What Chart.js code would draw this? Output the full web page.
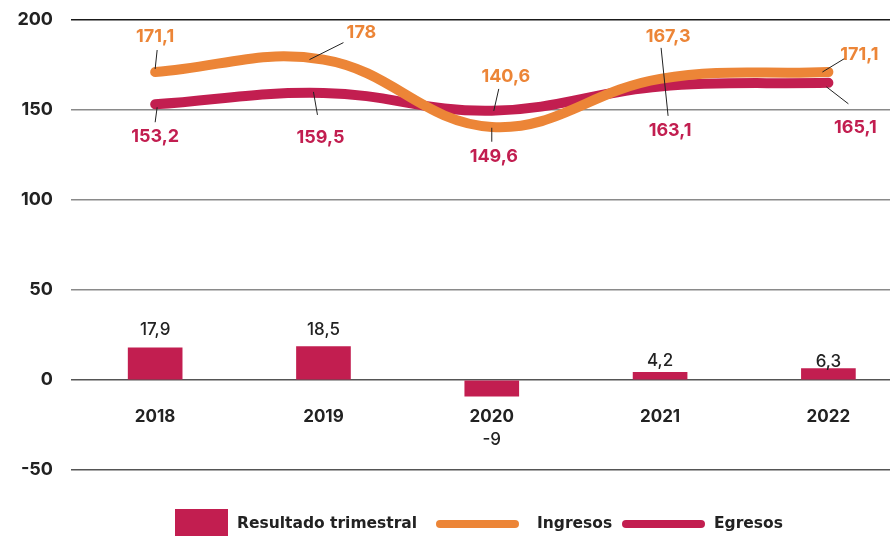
<!DOCTYPE html>
<html>
<head>
<meta charset="utf-8">
<script src="https://cdn.jsdelivr.net/npm/chart.js@4.4.1/dist/chart.umd.min.js"></script>
<style>
    html, body { margin: 0; padding: 0; background: #fff; }
    .wrap { position: relative; width: 890px; height: 536px; }
    #resultChart { position: absolute; left: 0; top: 0; }
    .legend { position: absolute; top: 509px; left: 0; width: 890px; height: 27px; font-family: "DejaVu Sans", sans-serif; font-weight: bold; font-size: 15.5px; color: #222; }
    .legend span { position: absolute; white-space: nowrap; }
</style>
</head>
<body>
<div class="wrap">
    <canvas id="resultChart" width="890" height="536"></canvas>
    <div class="legend">
        <span style="left:175px; top:0; width:53px; height:27px; background:#C21E50;"></span>
        <span style="left:237px; top:5px;">Resultado trimestral</span>
        <span style="left:436px; top:11px; width:83px; height:8px; border-radius:4px; background:#EC8537;"></span>
        <span style="left:537px; top:5px;">Ingresos</span>
        <span style="left:622px; top:11px; width:83px; height:8px; border-radius:4px; background:#C21E50;"></span>
        <span style="left:714px; top:5px;">Egresos</span>
    </div>
</div>
<script>
// Data
const years = ['2018', '2019', '2020', '2021', '2022'];
const resultado = [17.9, 18.5, -9, 4.2, 6.3];
const ingresos = [171.1, 178, 140.6, 167.3, 171.1];
const egresos = [153.2, 159.5, 149.6, 163.1, 165.1];
const yTicks = [-50, 0, 50, 100, 150, 200];

const ORANGE = '#EC8537';
const MAGENTA = '#C21E50';
const DARK = '#222';
const FONT = 'Inter, "Open Sans", sans-serif';

// label placement (pixels relative to each point): text centre + leader line a -> b
const ingresosLabels = [
    { dx: 0, dy: -35, a: [2, -22], b: [0, -3] },
    { dx: 38, dy: -27, a: [20, -17], b: [-14, 0] },
    { dx: 14, dy: -50, a: [7, -38], b: [2, -16] },
    { dx: 8, dy: -42, a: [1, -31], b: [8, 37] },
    { dx: 31, dy: -17, a: [17, -14], b: [-6, 0] }
];
const egresosLabels = [
    { dx: 0, dy: 32, a: [2, 3], b: [0, 18] },
    { dx: -3, dy: 45, a: [-10, -1], b: [-6, 22] },
    { dx: 2, dy: 46, a: [0, 17], b: [0, 31] },
    { dx: 10, dy: 44, a: null, b: null },
    { dx: 27, dy: 45, a: [-2, 4], b: [20, 21] }
];
const barLabelOffsets = [-18, -17, 44, -12, -7];

function fmt(v) {
    return String(v).replace('.', ',');
}

// Draw value labels and leader lines
const valueLabels = {
    id: 'valueLabels',
    afterDatasetsDraw(chart) {
        const ctx = chart.ctx;
        ctx.save();
        ctx.textAlign = 'center';
        ctx.textBaseline = 'middle';

        // bars (label sits from the bar end)
        const barMeta = chart.getDatasetMeta(0);
        ctx.font = '500 17px ' + FONT;
        ctx.fillStyle = DARK;
        barMeta.data.forEach((bar, i) => {
            ctx.fillText(fmt(resultado[i]), bar.x, bar.y + barLabelOffsets[i]);
        });

        // lines
        const sets = [
            { index: 1, values: ingresos, labels: ingresosLabels, color: ORANGE },
            { index: 2, values: egresos, labels: egresosLabels, color: MAGENTA }
        ];
        sets.forEach(s => {
            const meta = chart.getDatasetMeta(s.index);
            meta.data.forEach((pt, i) => {
                const l = s.labels[i];
                if (l.a) {
                    ctx.strokeStyle = DARK;
                    ctx.lineWidth = 1;
                    ctx.beginPath();
                    ctx.moveTo(pt.x + l.a[0], pt.y + l.a[1]);
                    ctx.lineTo(pt.x + l.b[0], pt.y + l.b[1]);
                    ctx.stroke();
                }
                ctx.font = 'bold 18px ' + FONT;
                ctx.fillStyle = s.color;
                ctx.fillText(fmt(s.values[i]), pt.x + l.dx, pt.y + l.dy);
            });
        });
        ctx.restore();
    }
};

const ctx = document.getElementById('resultChart').getContext('2d');
const chart = new Chart(ctx, {
    type: 'bar',
    data: {
        datasets: [{
            type: 'bar',
            label: 'Resultado trimestral',
            data: years.map((y, i) => ({ x: i, y: resultado[i] })),
            backgroundColor: MAGENTA,
            barThickness: 54,
            order: 3
        }, {
            type: 'line',
            label: 'Ingresos',
            data: years.map((y, i) => ({ x: i, y: ingresos[i] })),
            borderColor: ORANGE,
            borderWidth: 10,
            borderCapStyle: 'round',
            tension: 0.4,
            pointRadius: 0,
            order: 1
        }, {
            type: 'line',
            label: 'Egresos',
            data: years.map((y, i) => ({ x: i, y: egresos[i] })),
            borderColor: MAGENTA,
            borderWidth: 10,
            borderCapStyle: 'round',
            tension: 0.4,
            pointRadius: 0,
            order: 2
        }]
    },
    options: {
        responsive: false,
        animation: false,
        layout: { padding: { top: 20, bottom: 66, left: 0, right: 0 } },
        plugins: {
            legend: { display: false },
            tooltip: { enabled: false }
        },
        scales: {
            x: {
                type: 'linear',
                position: { y: 0 },
                offset: false,
                min: -0.5,
                max: 4.366,
                afterBuildTicks: axis => { axis.ticks = years.map((y, i) => ({ value: i })); },
                afterFit: axis => { axis.paddingLeft = 0; axis.paddingRight = 0; },
                grid: { display: false },
                border: { display: false },
                ticks: {
                    callback: v => years[v],
                    color: DARK,
                    font: { family: FONT, size: 17, weight: 'bold' },
                    padding: 19,
                    maxRotation: 0
                }
            },
            y: {
                min: -50,
                max: 200,
                afterBuildTicks: axis => { axis.ticks = yTicks.map(v => ({ value: v })); },
                afterFit: axis => {
                    axis.width = 71;
                    axis.paddingTop = 0;
                    axis.paddingBottom = 0;
                },
                border: { display: false },
                grid: {
                    drawTicks: false,
                    lineWidth: 1.5,
                    color: c => c.tick.value === 200 ? '#1a1a1a' : (c.tick.value <= 0 ? '#555' : '#8a8a8a')
                },
                ticks: {
                    color: DARK,
                    padding: 18,
                    font: { family: FONT, size: 18, weight: 'bold' }
                }
            }
        }
    },
    plugins: [valueLabels]
});
</script>
</body>
</html>
